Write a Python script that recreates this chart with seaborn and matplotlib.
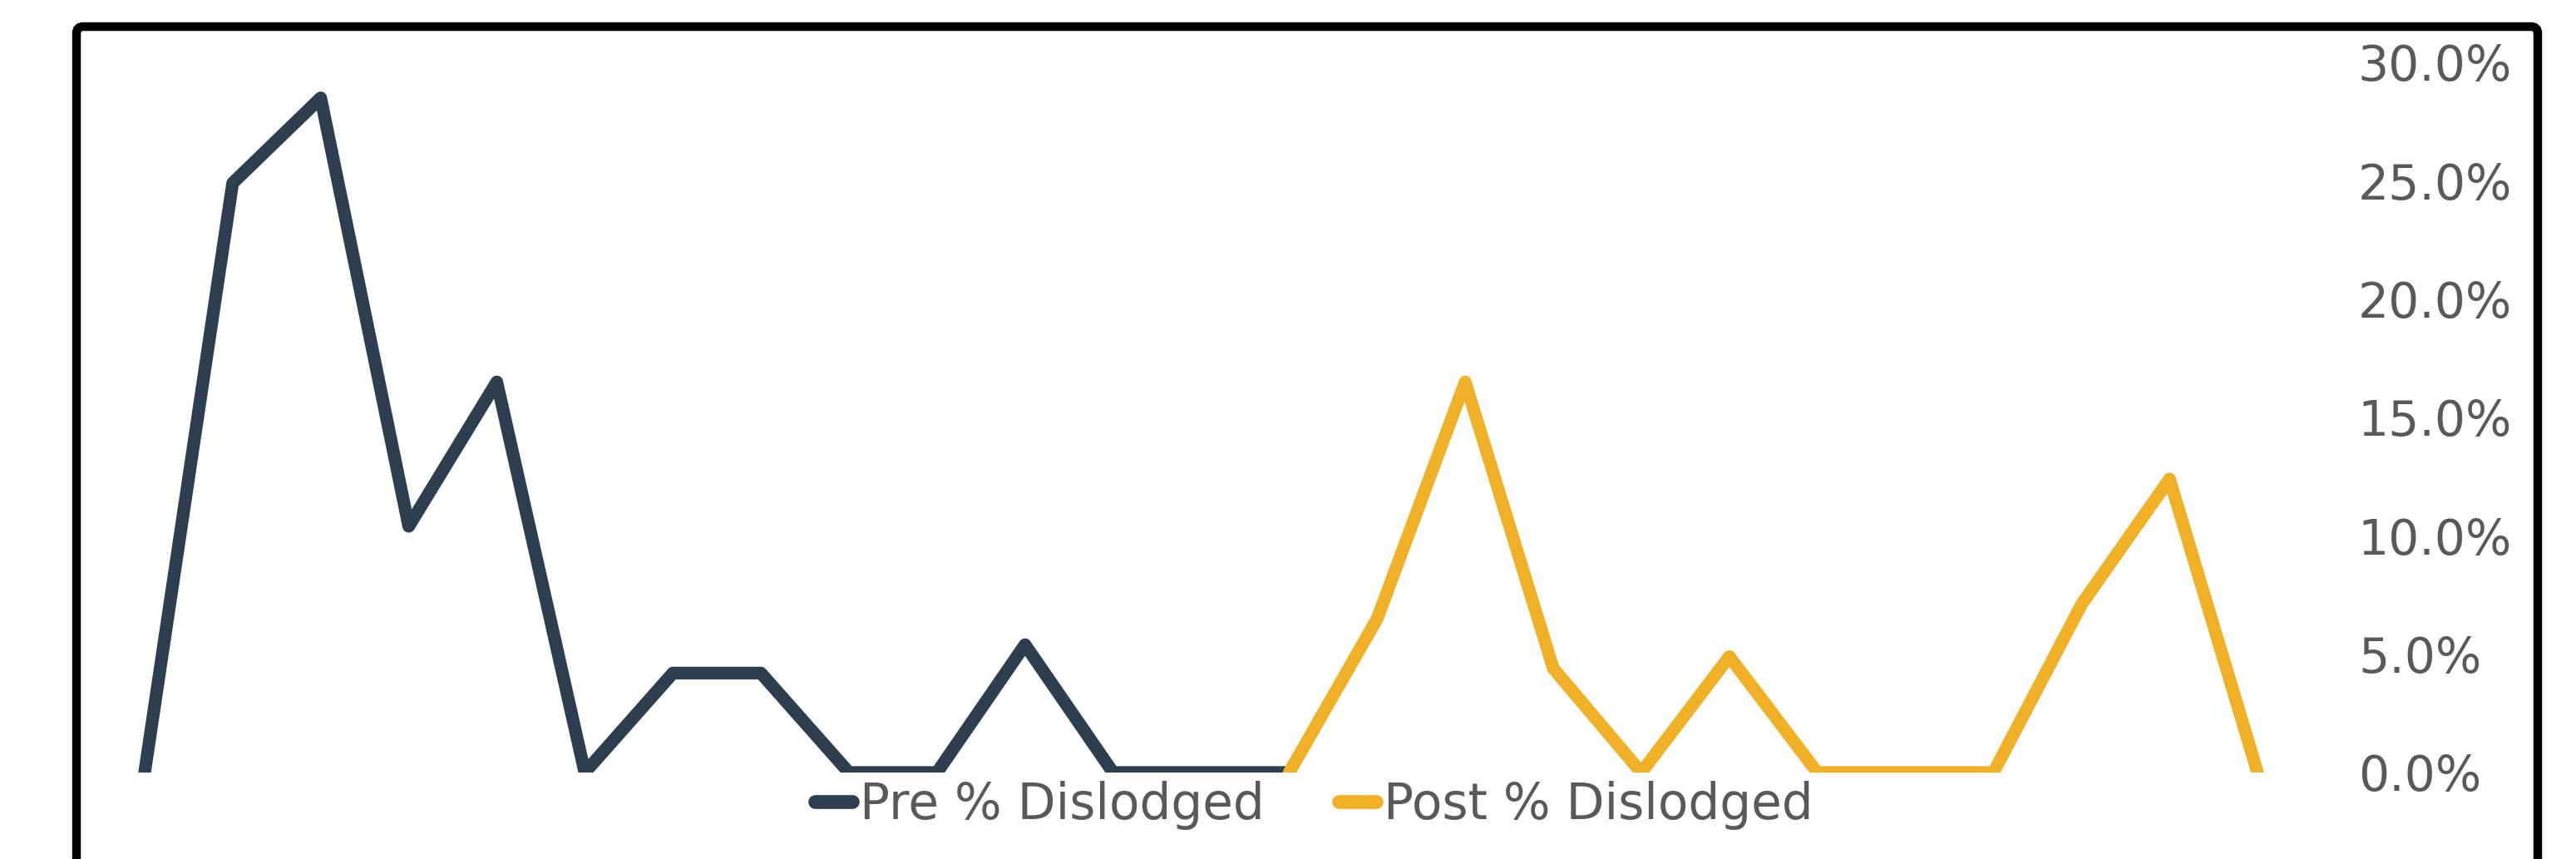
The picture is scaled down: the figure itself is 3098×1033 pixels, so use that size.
import pandas as pd
import matplotlib.pyplot as plt
import seaborn as sns
from matplotlib.lines import Line2D
from matplotlib.patches import FancyBboxPatch
from matplotlib.ticker import PercentFormatter

# values (fraction dislodged)
pre_idx = list(range(0, 14))
pre_vals = [0.0, 0.249, 0.285, 0.104, 0.165, 0.0, 0.042, 0.042, 0.0, 0.0, 0.054, 0.0, 0.0, 0.0]
post_idx = list(range(13, 25))
post_vals = [0.0, 0.065, 0.165, 0.044, 0.0, 0.049, 0.0, 0.0, 0.0, 0.071, 0.124, 0.0]
series_names = ['Pre % Dislodged', 'Post % Dislodged']
colors = ['#2d3e4f', '#f0b128']
y_ticks = [0.0, 0.05, 0.10, 0.15, 0.20, 0.25, 0.30]

df = pd.concat([
    pd.DataFrame({'idx': pre_idx, 'value': pre_vals, 'series': series_names[0]}),
    pd.DataFrame({'idx': post_idx, 'value': post_vals, 'series': series_names[1]}),
])

sns.set_style("white")
plt.rcParams['font.family'] = ['DejaVu Sans']

W, H = 3098, 1033
fig = plt.figure(figsize=(W / 100, H / 100), dpi=100)
ax = fig.add_axes([121 / W, 1 - 929 / H, (2768 - 121) / W, (929 - 75) / H])

sns.lineplot(data=df, x='idx', y='value', hue='series', palette=colors,
             linewidth=11, ax=ax, legend=False, sort=True, estimator=None)
for ln in ax.get_lines():
    ln.set_linewidth(11)
    ln.set_solid_joinstyle('round')

ax.set_xlim(-0.5, 24.5)
ax.set_ylim(0, 0.30)
ax.set_xticks([])
ax.set_yticks(y_ticks)
ax.yaxis.set_major_formatter(PercentFormatter(1.0, decimals=1))
ax.yaxis.tick_right()
ax.tick_params(axis='y', length=0, pad=49, labelsize=42, labelcolor='#595959')
ax.set_xlabel('')
ax.set_ylabel('')
for s in ax.spines.values():
    s.set_visible(False)

# chart border (continues below the crop)
border = FancyBboxPatch((92 / 100, -0.6), (3052 - 92) / 100, (H - 32) / 100 + 0.6,
                        boxstyle='round,pad=0,rounding_size=0.08',
                        transform=fig.dpi_scale_trans, fill=False,
                        edgecolor='black', linewidth=7.5, clip_on=False)
fig.patches.append(border)

handles = [Line2D([0], [0], color=c, linewidth=12, solid_capstyle='round') for c in colors]
leg = fig.legend(handles, series_names, loc='center', bbox_to_anchor=(1580 / W, 1 - 968 / H),
                 ncol=2, frameon=False, handlelength=0.75, handletextpad=0.15, columnspacing=1.5,
                 prop={'family': ['DejaVu Sans'], 'size': 43})
for t in leg.get_texts():
    t.set_color('#595959')

plt.savefig('out.png', dpi=100)
plt.close()
